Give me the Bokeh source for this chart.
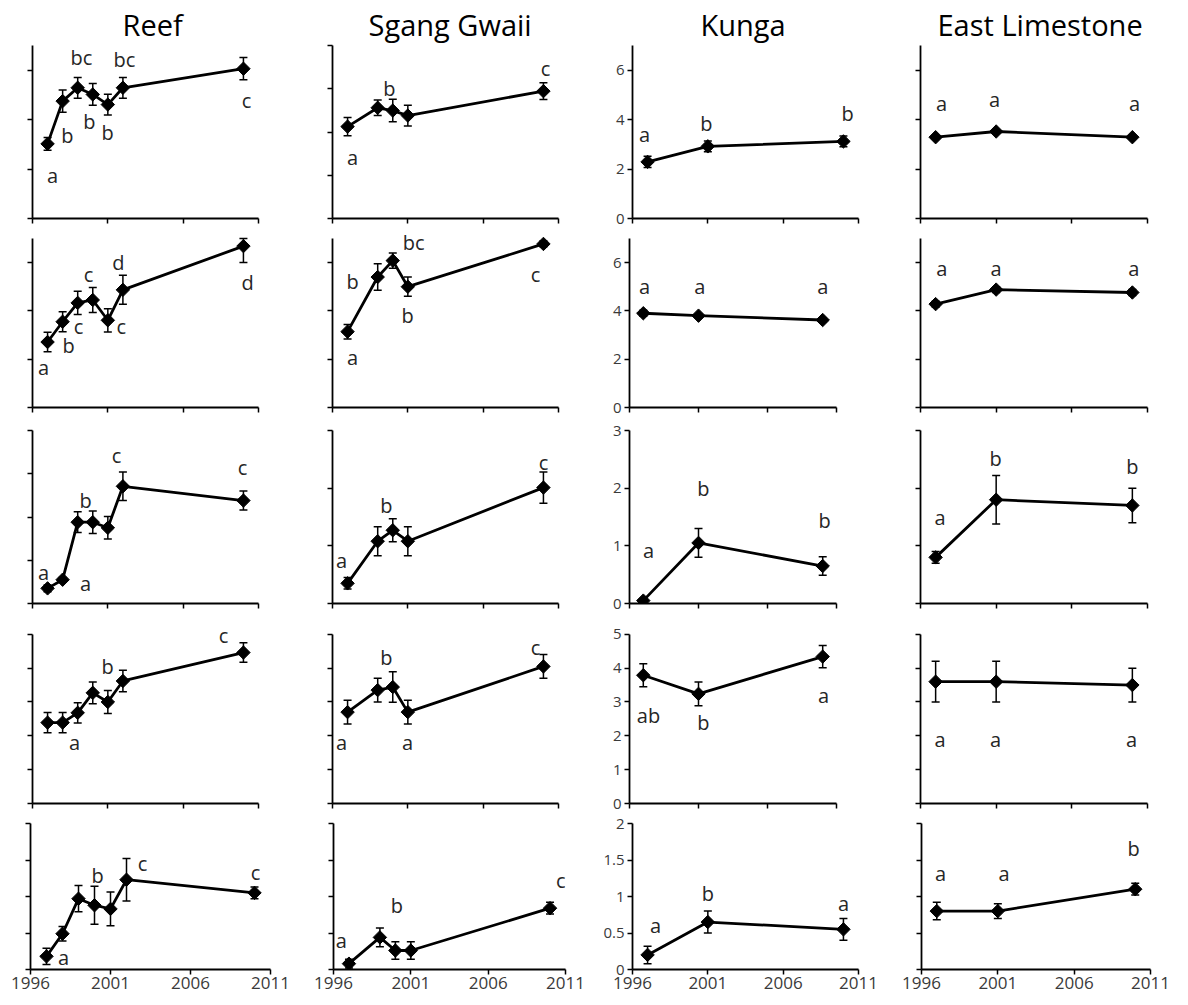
from bokeh.plotting import figure
from bokeh.layouts import column, row
from bokeh.models import ColumnDataSource, Whisker, TeeHead, LabelSet, FixedTicker, Range1d
from bokeh.embed import file_html
from bokeh.resources import INLINE
from bokeh.core.properties import value
import numpy as np

# ---------------- DATA ----------------
sites = ["Reef", "Sgang Gwaii", "Kunga", "East Limestone"]
x_ticks = [1996, 2001, 2006, 2011]

reef_years = [1997, 1998, 1999, 2000, 2001, 2002, 2010]
sgang_years = [1997, 1999, 2000, 2001, 2010]
kunga_years = [1997, 2001, 2010]
elim_years = [1997, 2001, 2010]

# row 1
reef_r1 = [3.02, 4.75, 5.29, 5.02, 4.61, 5.29, 6.06]
reef_r1_se = [0.26, 0.45, 0.42, 0.44, 0.42, 0.42, 0.45]
reef_r1_sig = ["a", "b", "bc", "b", "b", "bc", "c"]
sgang_r1 = [4.25, 5.12, 4.99, 4.76, 5.89]
sgang_r1_se = [0.42, 0.36, 0.52, 0.48, 0.39]
sgang_r1_sig = ["a", "b", "", "", "c"]
kunga_r1 = [2.29, 2.92, 3.12]
kunga_r1_se = [0.23, 0.22, 0.22]
kunga_r1_sig = ["a", "b", "b"]
elim_r1 = [3.29, 3.52, 3.29]
elim_r1_se = [0.04, 0.04, 0.04]
elim_r1_sig = ["a", "a", "a"]

# row 2
reef_r2 = [2.71, 3.55, 4.33, 4.45, 3.61, 4.87, 6.68]
reef_r2_se = [0.40, 0.41, 0.48, 0.52, 0.48, 0.60, 0.68]
reef_r2_sig = ["a", "b", "c", "c", "c", "d", "d"]
sgang_r2 = [3.14, 5.40, 6.08, 5.00, 6.77]
sgang_r2_se = [0.30, 0.55, 0.32, 0.40, 0.12]
sgang_r2_sig = ["a", "b", "bc", "b", "c"]
kunga_r2 = [3.90, 3.80, 3.62]
kunga_r2_se = [0.12, 0.08, 0.08]
kunga_r2_sig = ["a", "a", "a"]
elim_r2 = [4.28, 4.88, 4.76]
elim_r2_se = [0.12, 0.12, 0.12]
elim_r2_sig = ["a", "a", "a"]

# row 3
reef_r3 = [0.35, 0.55, 1.88, 1.88, 1.75, 2.71, 2.38]
reef_r3_se = [0.08, 0.05, 0.24, 0.26, 0.26, 0.33, 0.22]
reef_r3_sig = ["a", "a", "b", "", "", "c", "c"]
sgang_r3 = [0.35, 1.08, 1.27, 1.08, 2.01]
sgang_r3_se = [0.10, 0.25, 0.20, 0.25, 0.27]
sgang_r3_sig = ["a", "b", "", "", "c"]
kunga_r3 = [0.05, 1.05, 0.65]
kunga_r3_se = [0.03, 0.25, 0.16]
kunga_r3_sig = ["a", "b", "b"]
elim_r3 = [0.80, 1.80, 1.70]
elim_r3_se = [0.10, 0.42, 0.30]
elim_r3_sig = ["a", "b", "b"]

# row 4
reef_r4 = [2.39, 2.39, 2.68, 3.27, 3.00, 3.62, 4.46]
reef_r4_se = [0.30, 0.30, 0.30, 0.32, 0.34, 0.32, 0.29]
reef_r4_sig = ["", "a", "", "", "b", "", "c"]
sgang_r4 = [2.70, 3.35, 3.44, 2.70, 4.05]
sgang_r4_se = [0.35, 0.35, 0.45, 0.35, 0.35]
sgang_r4_sig = ["a", "b", "", "a", "c"]
kunga_r4 = [3.79, 3.24, 4.34]
kunga_r4_se = [0.34, 0.35, 0.33]
kunga_r4_sig = ["ab", "b", "a"]
elim_r4 = [3.60, 3.60, 3.50]
elim_r4_se = [0.60, 0.60, 0.50]
elim_r4_sig = ["a", "a", "a"]

# row 5
reef_r5 = [0.18, 0.49, 0.97, 0.88, 0.83, 1.23, 1.05]
reef_r5_se = [0.11, 0.10, 0.18, 0.26, 0.23, 0.29, 0.08]
reef_r5_sig = ["a", "", "", "b", "", "c", "c"]
sgang_r5 = [0.08, 0.44, 0.26, 0.26, 0.84]
sgang_r5_se = [0.06, 0.13, 0.12, 0.12, 0.08]
sgang_r5_sig = ["a", "b", "", "", "c"]
kunga_r5 = [0.20, 0.65, 0.55]
kunga_r5_se = [0.12, 0.15, 0.15]
kunga_r5_sig = ["a", "b", "a"]
elim_r5 = [0.80, 0.80, 1.10]
elim_r5_se = [0.12, 0.10, 0.08]
elim_r5_sig = ["a", "a", "b"]

# y-axis scale per row/site
y_max = [[7, 8, 7, 7], [7, 7, 7, 7], [4, 3, 3, 3], [5, 5, 5, 5], [2, 2, 2, 2]]
y_step = [[2, 2, 2, 2], [2, 2, 2, 2], [1, 1, 1, 1], [1, 1, 1, 1], [0.5, 0.5, 0.5, 0.5]]

# ---------------- LAYOUT (letter anchor positions, data units) ----------------
lab_pos = {
    (0, 0): [(1997.33, 1.74), (1998.32, 3.36), (1999.25, 6.52), (1999.78, 3.93), (2000.98, 3.48), (2002.1, 6.43), (2010.2, 4.78)],
    (0, 1): [(1997.33, 2.82), (1999.78, 6.01), (2010.14, 6.93)],
    (0, 2): [(1996.8, 3.38), (2000.9, 3.85), (2010.27, 4.25)],
    (0, 3): [(1997.39, 4.65), (2000.9, 4.82), (2010.14, 4.65)],
    (1, 0): [(1996.73, 1.66), (1998.39, 2.55), (1999.05, 3.36), (1999.72, 5.5), (2001.9, 3.36), (2001.7, 5.99), (2010.27, 5.18)],
    (1, 1): [(1997.33, 2.06), (1997.33, 5.22), (2001.38, 6.85), (2000.98, 3.8), (2009.47, 5.5)],
    (1, 2): [(1997.1, 5.0), (2001.1, 5.0), (2010.0, 5.0)],
    (1, 3): [(1997.4, 5.75), (2001.0, 5.75), (2010.1, 5.75)],
    (2, 0): [(1996.73, 0.72), (1999.52, 0.46), (1999.52, 2.38), (2001.58, 3.42), (2009.94, 3.14)],
    (2, 1): [(1996.6, 0.75), (1999.58, 1.7), (2010.0, 2.45)],
    (2, 2): [(1997.38, 0.92), (2001.36, 1.99), (2010.13, 1.44)],
    (2, 3): [(1997.3, 1.49), (2000.96, 2.51), (2010.0, 2.38)],
    (3, 0): [(1998.79, 1.79), (2000.98, 4.05), (2008.68, 4.95)],
    (3, 1): [(1996.6, 1.79), (1999.58, 4.3), (2000.98, 1.79), (2009.47, 4.6)],
    (3, 2): [(1997.38, 2.6), (2001.36, 2.4), (2010.06, 3.2)],
    (3, 3): [(1997.3, 1.88), (2000.96, 1.88), (2009.94, 1.88)],
    (4, 0): [(1998.06, 0.16), (2000.19, 1.29), (2003.0, 1.45), (2010.06, 1.33)],
    (4, 1): [(1996.5, 0.4), (2000.1, 0.88), (2010.7, 1.22)],
    (4, 2): [(1997.53, 0.6), (2001.0, 1.04), (2010.0, 0.9)],
    (4, 3): [(1997.25, 1.32), (2001.4, 1.32), (2009.9, 1.66)],
}

col_edges = [0, 300, 590, 880, 1180]
row_edges = [0, 227, 420, 618, 813, 1000]
x_frame = {0: (32, 258), 1: (332, 558), 2: (629, 836), 3: (920, 1147)}
y_frame = {0: (45, 218), 1: (238, 411), 2: (430, 603), 3: (634, 807), 4: (823, 969)}
frame_override = {
    (0, 2): ((632, 858), (43, 221)),
    (1, 2): ((629, 836), (232, 407)),
    (3, 2): ((629, 836), (630, 803)),
    (4, 0): ((30, 270), (823, 969)),
    (4, 1): ((333, 565), (823, 969)),
    (4, 2): ((632, 858), (823, 969)),
    (4, 3): ((921, 1150), (823, 969)),
}
TOP_PAD = [0, 5, 10, 10, 8]
title_left_offset = [90, 36, 68, 17]

FONT = "Open Sans"
series = {
    0: (reef_years, [reef_r1, reef_r2, reef_r3, reef_r4, reef_r5],
        [reef_r1_se, reef_r2_se, reef_r3_se, reef_r4_se, reef_r5_se],
        [reef_r1_sig, reef_r2_sig, reef_r3_sig, reef_r4_sig, reef_r5_sig]),
    1: (sgang_years, [sgang_r1, sgang_r2, sgang_r3, sgang_r4, sgang_r5],
        [sgang_r1_se, sgang_r2_se, sgang_r3_se, sgang_r4_se, sgang_r5_se],
        [sgang_r1_sig, sgang_r2_sig, sgang_r3_sig, sgang_r4_sig, sgang_r5_sig]),
    2: (kunga_years, [kunga_r1, kunga_r2, kunga_r3, kunga_r4, kunga_r5],
        [kunga_r1_se, kunga_r2_se, kunga_r3_se, kunga_r4_se, kunga_r5_se],
        [kunga_r1_sig, kunga_r2_sig, kunga_r3_sig, kunga_r4_sig, kunga_r5_sig]),
    3: (elim_years, [elim_r1, elim_r2, elim_r3, elim_r4, elim_r5],
        [elim_r1_se, elim_r2_se, elim_r3_se, elim_r4_se, elim_r5_se],
        [elim_r1_sig, elim_r2_sig, elim_r3_sig, elim_r4_sig, elim_r5_sig]),
}


def fmt(v):
    return str(int(v)) if float(v).is_integer() else str(v)


def make_panel(r, c):
    years, means, ses, sigs = series[c]
    mean = means[r]
    se = ses[r]
    sig = sigs[r]
    (x0, x1), (y0, y1) = frame_override.get((r, c), (x_frame[c], y_frame[r]))
    fl, fr = col_edges[c], col_edges[c + 1]
    ft, fb = row_edges[r], row_edges[r + 1]
    ymax = y_max[r][c]
    step = y_step[r][c]
    yt = [float(v) for v in np.round(np.arange(0, ymax + 1e-9, step), 2)]
    pad = min(TOP_PAD[r], (y0 - ft))
    ytop = ymax * (y1 - (y0 - pad)) / (y1 - y0)

    p = figure(width=fr - fl, height=fb - ft,
               x_range=Range1d(1996, 2011), y_range=Range1d(0, ytop),
               min_border_left=x0 - fl, min_border_right=fr - x1,
               min_border_top=(y0 - pad) - ft, min_border_bottom=fb - y1,
               output_backend="svg", toolbar_location=None, tools="")
    p.outline_line_color = None
    p.xgrid.visible = False
    p.ygrid.visible = False
    p.background_fill_color = "white"
    p.border_fill_color = "white"

    for ax in (p.xaxis[0], p.yaxis[0]):
        ax.axis_line_color = "black"
        ax.axis_line_width = 1.8
        ax.major_tick_line_color = "black"
        ax.major_tick_line_width = 1.5
        ax.major_tick_out = 5
        ax.major_tick_in = 0
        ax.minor_tick_line_color = None
        ax.major_label_text_font = FONT
        ax.major_label_text_color = "#3a3a3a"
        ax.major_label_text_font_size = "15px"
        ax.major_label_standoff = 3

    p.yaxis.bounds = (0, ymax)
    p.xaxis.ticker = FixedTicker(ticks=x_ticks)
    p.yaxis.ticker = FixedTicker(ticks=yt)
    p.yaxis.major_label_overrides = {v: fmt(v) for v in yt}
    if r != 4:
        p.xaxis.major_label_text_font_size = "0px"
        p.xaxis.major_label_text_color = None
        p.xaxis.major_label_standoff = 0
    else:
        p.xaxis.major_label_text_font_size = "17px"
        p.xaxis.major_label_standoff = 2
    if c != 2:
        p.yaxis.major_label_text_font_size = "0px"
        p.yaxis.major_label_text_color = None
        p.yaxis.major_label_standoff = 0

    if r == 0:
        p.title.text = sites[c]
        p.title.align = "left"
        p.title.offset = title_left_offset[c]
        p.title.text_font = FONT
        p.title.text_font_size = "29px"
        p.title.text_font_style = "normal"
        p.title.text_color = "black"
        p.title.standoff = 3

    src = ColumnDataSource(dict(x=years, y=mean,
                                lo=[m - e for m, e in zip(mean, se)],
                                hi=[min(m + e, ymax) for m, e in zip(mean, se)]))
    p.add_layout(Whisker(base="x", lower="lo", upper="hi", source=src,
                         line_color="black", line_width=1.5,
                         upper_head=TeeHead(size=8, line_color="black", line_width=1.5),
                         lower_head=TeeHead(size=8, line_color="black", line_width=1.5)))
    p.line("x", "y", source=src, line_color="black", line_width=2.8)
    p.scatter("x", "y", source=src, marker="square", size=9.5, angle=np.pi / 4,
              fill_color="black", line_color="black")

    texts = [s for s in sig if s]
    pos = lab_pos[(r, c)]
    lsrc = ColumnDataSource(dict(x=[q[0] for q in pos], y=[q[1] for q in pos], t=texts))
    p.add_layout(LabelSet(x="x", y="y", text="t", source=lsrc,
                          text_align="center", text_baseline="middle",
                          text_font=value(FONT), text_font_size=value("20px"),
                          text_color="#262626"))
    return p


rows = []
for r in range(5):
    rows.append(row(*[make_panel(r, c) for c in range(4)], spacing=0))
layout = column(*rows, spacing=0)

open("out.html", "w").write(file_html(layout, INLINE))
